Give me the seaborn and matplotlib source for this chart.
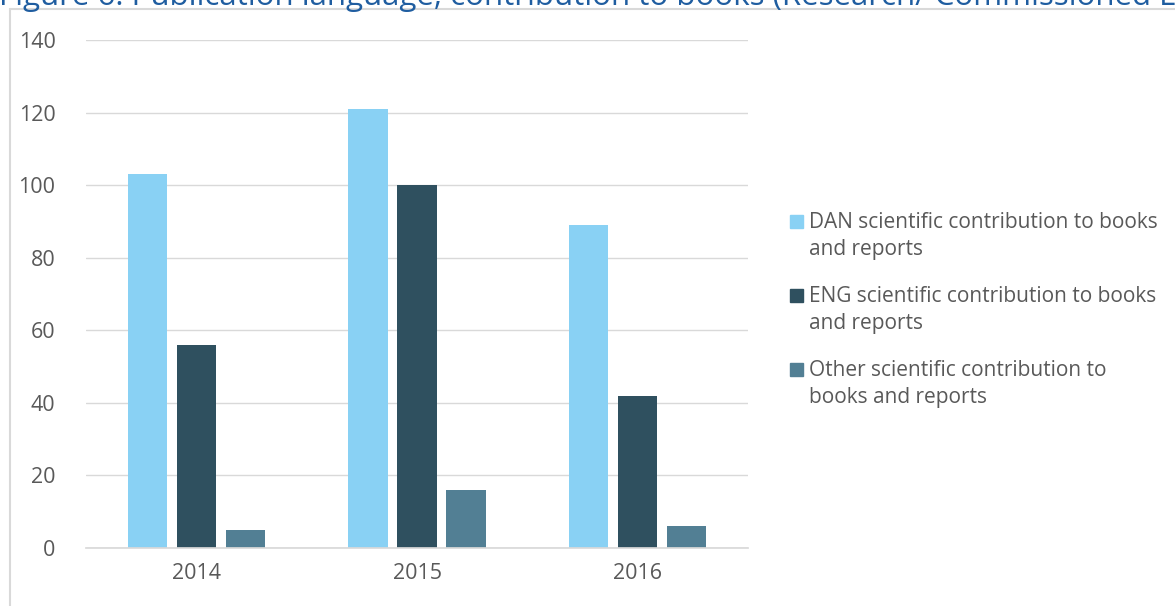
import pandas as pd
import matplotlib.pyplot as plt
import seaborn as sns
from matplotlib.patches import Rectangle
from matplotlib.lines import Line2D

years = ['2014', '2015', '2016']
series = [
    'DAN scientific contribution to books\nand reports',
    'ENG scientific contribution to books\nand reports',
    'Other scientific contribution to\nbooks and reports',
]
dan = [103, 121, 89]
eng = [56, 100, 42]
other = [5, 16, 6]
colors = ['#89D1F4', '#2F505F', '#527F94']
title = 'Figure 6: Publication language, contribution to books (Research/ Commissioned L'

df = pd.DataFrame({
    'year': years * 3,
    'value': dan + eng + other,
    'series': [s for s in series for _ in years],
})

sns.set_theme(style='white')
plt.rcParams['font.family'] = ['Open Sans', 'DejaVu Sans']

W, H = 1175, 606
fig = plt.figure(figsize=(W / 100, H / 100), dpi=100)
ax = fig.add_axes([86 / W, 58 / H, 662 / W, 508 / H])

sns.barplot(data=df, x='year', y='value', hue='series', palette=colors,
            width=0.666, gap=0.2, saturation=1, linewidth=0, edgecolor='none',
            legend=False, ax=ax)

ax.set_ylim(0, 140)
ax.set_yticks(range(0, 141, 20))
ax.set_xlabel('')
ax.set_ylabel('')
ax.grid(axis='y', color='#D9D9D9', linewidth=1)
ax.set_axisbelow(True)
for side in ['top', 'right', 'left']:
    ax.spines[side].set_visible(False)
ax.spines['bottom'].set_color('#D9D9D9')
ax.tick_params(length=0, labelsize=15.5, labelcolor='#595959')
ax.tick_params(axis='y', pad=22)
ax.tick_params(axis='x', pad=11)

# outer chart frame (cut by the image edges)
fig.add_artist(Line2D([10 / W, 10 / W], [0, 1 - 9 / H], color='#D9D9D9', lw=1.5))
fig.add_artist(Line2D([10 / W, 1], [1 - 9 / H, 1 - 9 / H], color='#D9D9D9', lw=1.5))

# title, partly cut off at the top
fig.text(-1 / W, 1 - 5 / H, title, color='#1F5DA0', fontsize=22.5,
         va='baseline', ha='left')

# legend
for i, (lab, col) in enumerate(zip(series, colors)):
    ytop = 215 + i * 74
    fig.add_artist(Rectangle((790 / W, 1 - (ytop + 13) / H), 13 / W, 13 / H,
                             transform=fig.transFigure, color=col))
    fig.text(809 / W, 1 - (ytop + 7) / H, lab.split('\n')[0], color='#595959',
             fontsize=15, va='center', ha='left')
    fig.text(809 / W, 1 - (ytop + 35) / H, lab.split('\n')[1], color='#595959',
             fontsize=15, va='center', ha='left')

fig.savefig('out.png', dpi=100)
